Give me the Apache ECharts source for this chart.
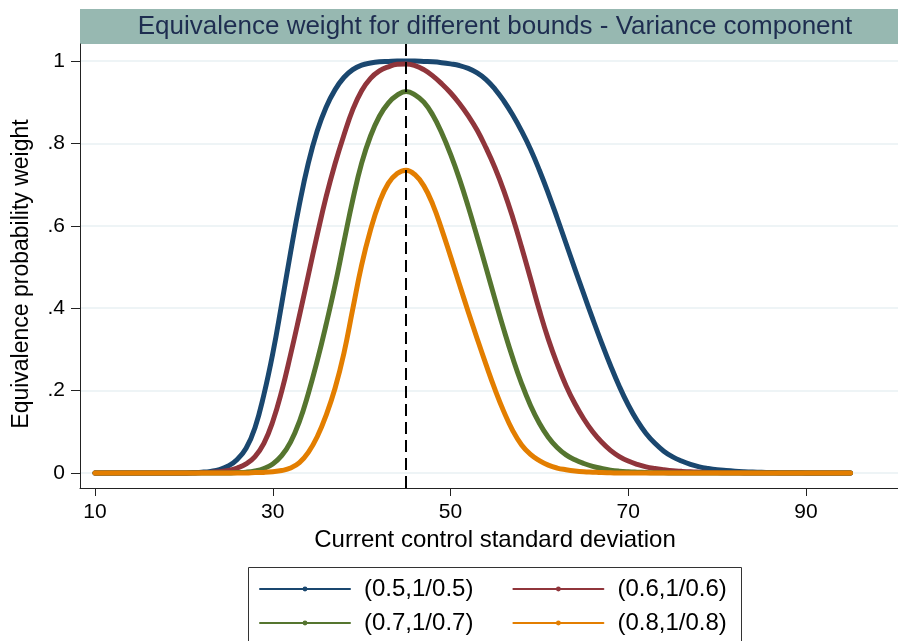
<!DOCTYPE html>
<html>
<head>
<meta charset="utf-8">
<script src="https://cdn.jsdelivr.net/npm/echarts@6/dist/echarts.min.js"></script>
<style>
  html, body { margin: 0; padding: 0; background: #fff; }
  #chart { width: 898px; height: 641px; }
</style>
</head>
<body>
<div id="chart"></div>
<script>
// Current control standard deviation (x)
const sdValues = [
  10,11,12,13,14,15,16,17,18,19,
  20,21,22,23,24,25,26,27,28,29,
  30,31,32,33,34,35,36,37,38,39,
  40,41,42,43,44,45,46,47,48,49,
  50,51,52,53,54,55,56,57,58,59,
  60,61,62,63,64,65,66,67,68,69,
  70,71,72,73,74,75,76,77,78,79,
  80,81,82,83,84,85,86,87,88,89,
  90,91,92,93,94,95
];

// Equivalence probability weight, bounds (0.5, 1/0.5)
const weight05 = [
  0,0,0,0,0,0,0,0,0,0,
  0,0.001,0.002,0.004,0.008,0.017,0.033,0.06,0.11,0.19,
  0.29,0.41,0.535,0.652,0.752,0.83,0.888,0.93,0.96,0.979,
  0.99,0.995,0.998,0.999,1,1,1,0.999,0.998,0.996,
  0.993,0.989,0.982,0.971,0.955,0.932,0.903,0.869,0.83,0.786,
  0.735,0.679,0.619,0.557,0.495,0.434,0.374,0.316,0.261,0.21,
  0.165,0.127,0.096,0.072,0.053,0.039,0.029,0.021,0.015,0.011,
  0.008,0.006,0.0044,0.0032,0.0023,0.0017,0.0012,0.0009,0.0006,0.0004,
  0.0003,0.0002,0.0001,0.0001,0,0
];

// bounds (0.6, 1/0.6)
const weight06 = [
  0,0,0,0,0,0,0,0,0,0,
  0,0,0.001,0.0015,0.003,0.006,0.012,0.022,0.04,0.072,
  0.125,0.198,0.287,0.382,0.48,0.578,0.67,0.75,0.82,0.882,
  0.928,0.958,0.976,0.986,0.992,0.993,0.989,0.979,0.964,0.945,
  0.923,0.897,0.867,0.832,0.789,0.741,0.685,0.62,0.548,0.472,
  0.395,0.325,0.265,0.212,0.168,0.131,0.1,0.075,0.055,0.04,
  0.029,0.021,0.015,0.011,0.008,0.0055,0.004,0.0028,0.002,0.0014,
  0.001,0.0007,0.0005,0.0003,0.0002,0.0001,0,0,0,0,
  0,0,0,0,0,0
];

// bounds (0.7, 1/0.7)
const weight07 = [
  0,0,0,0,0,0,0,0,0,0,
  0,0,0,0,0,0,0.001,0.002,0.005,0.011,
  0.022,0.042,0.075,0.125,0.193,0.272,0.36,0.455,0.56,0.663,
  0.752,0.818,0.866,0.898,0.917,0.926,0.918,0.9,0.869,0.826,
  0.774,0.714,0.646,0.573,0.498,0.422,0.348,0.279,0.217,0.164,
  0.121,0.087,0.062,0.044,0.032,0.023,0.016,0.011,0.007,0.0045,
  0.003,0.002,0.0012,0.0007,0.0004,0.0002,0,0,0,0,
  0,0,0,0,0,0,0,0,0,0,
  0,0,0,0,0,0
];

// bounds (0.8, 1/0.8)
const weight08 = [
  0,0,0,0,0,0,0,0,0,0,
  0,0,0,0,0,0,0,0,0.001,0.0015,
  0.003,0.006,0.012,0.025,0.05,0.088,0.14,0.205,0.29,0.398,
  0.505,0.59,0.657,0.703,0.727,0.735,0.724,0.697,0.652,0.592,
  0.526,0.458,0.391,0.326,0.263,0.203,0.149,0.103,0.068,0.045,
  0.03,0.019,0.012,0.008,0.005,0.003,0.002,0.001,0.0005,0,
  0,0,0,0,0,0,0,0,0,0,
  0,0,0,0,0,0,0,0,0,0,
  0,0,0,0,0,0
];

const seriesNames = ['(0.5,1/0.5)', '(0.6,1/0.6)', '(0.7,1/0.7)', '(0.8,1/0.8)'];
const seriesWeights = [weight05, weight06, weight07, weight08];
const seriesColors = ['#1a476f', '#90353b', '#55752f', '#e37e00'];

const xTicks = [10, 30, 50, 70, 90];
const yTicks = [0, 0.2, 0.4, 0.6, 0.8, 1];
const yTickLabels = ['0', '.2', '.4', '.6', '.8', '1'];
const referenceSD = 45;

const titleText = 'Equivalence weight for different bounds - Variance component';
const font = 'Liberation Sans, Arial, Helvetica, sans-serif';

const chart = echarts.init(document.getElementById('chart'), null, { renderer: 'canvas' });

const series = seriesNames.map((name, i) => ({
  name: name,
  type: 'line',
  data: sdValues.map((x, k) => [x, seriesWeights[i][k]]),
  smooth: 0.45,
  symbol: 'circle',
  showSymbol: false,
  color: seriesColors[i],
  lineStyle: { width: 5, color: seriesColors[i], cap: 'round', join: 'round' },
  itemStyle: { color: seriesColors[i] },
  silent: true,
  animation: false,
  z: 2 + i
}));

// Vertical dashed reference line at the reference standard deviation
series[series.length - 1].markLine = {
  silent: true,
  symbol: ['none', 'none'],
  animation: false,
  z: 20,
  label: { show: false },
  lineStyle: { color: '#000', type: [12, 6], width: 2 },
  data: [{ xAxis: referenceSD }]
};

const legendCommon = {
  orient: 'horizontal',
  left: 259,
  padding: 0,
  itemGap: 39,
  itemWidth: 90,
  itemHeight: 6,
  selectedMode: false,
  lineStyle: { width: 2 },
  textStyle: { fontFamily: font, fontSize: 24, color: '#000', lineHeight: 28, padding: [0, 0, 0, 9] }
};

const option = {
  animation: false,
  backgroundColor: '#fff',
  graphic: [
    {
      type: 'rect', z: 0,
      shape: { x: 80, y: 9, width: 818, height: 35 },
      style: { fill: '#97b8b1' }
    },
    {
      type: 'text', z: 1,
      style: {
        text: titleText, x: 495, y: 27,
        align: 'center', verticalAlign: 'middle',
        fontFamily: font, fontSize: 26, fill: '#1e2d50'
      }
    },
    {
      type: 'rect', z: 0,
      shape: { x: 248.5, y: 567.5, width: 493, height: 100 },
      style: { fill: 'none', stroke: '#333', lineWidth: 1 }
    }
  ],
  legend: [
    Object.assign({}, legendCommon, { top: 575, data: [seriesNames[0], seriesNames[1]] }),
    Object.assign({}, legendCommon, { top: 609, data: [seriesNames[2], seriesNames[3]] })
  ],
  grid: { left: 80, right: 0, top: 44, bottom: 153 },
  xAxis: {
    type: 'value',
    min: 8.31,
    max: 100.35,
    name: 'Current control standard deviation',
    nameLocation: 'middle',
    nameGap: 40,
    nameTextStyle: { fontFamily: font, fontSize: 24, color: '#000', padding: [0, 0, 0, 12] },
    axisLine: { show: true, onZero: false, lineStyle: { color: '#222', width: 1 } },
    axisTick: { show: true, customValues: xTicks, length: 8, lineStyle: { color: '#222' } },
    axisLabel: { customValues: xTicks, fontFamily: font, fontSize: 21, color: '#000', margin: 14 },
    splitLine: { show: false }
  },
  yAxis: {
    type: 'value',
    min: -0.0364,
    max: 1.0413,
    name: 'Equivalence probability weight',
    nameLocation: 'middle',
    nameGap: 47,
    nameTextStyle: { fontFamily: font, fontSize: 23, color: '#000', padding: [0, 16, 0, 0] },
    axisLine: { show: true, onZero: false, lineStyle: { color: '#222', width: 1 } },
    axisTick: { show: true, customValues: yTicks, length: 9, lineStyle: { color: '#222' } },
    axisLabel: {
      customValues: yTicks,
      fontFamily: font, fontSize: 21, color: '#000', margin: 15,
      formatter: (v) => {
        const idx = yTicks.findIndex(t => Math.abs(t - v) < 1e-9);
        return idx >= 0 ? yTickLabels[idx] : '';
      }
    },
    splitLine: { show: true, lineStyle: { color: '#e9f1f3', width: 1.5 } }
  },
  series: series
};

chart.setOption(option);
</script>
</body>
</html>
